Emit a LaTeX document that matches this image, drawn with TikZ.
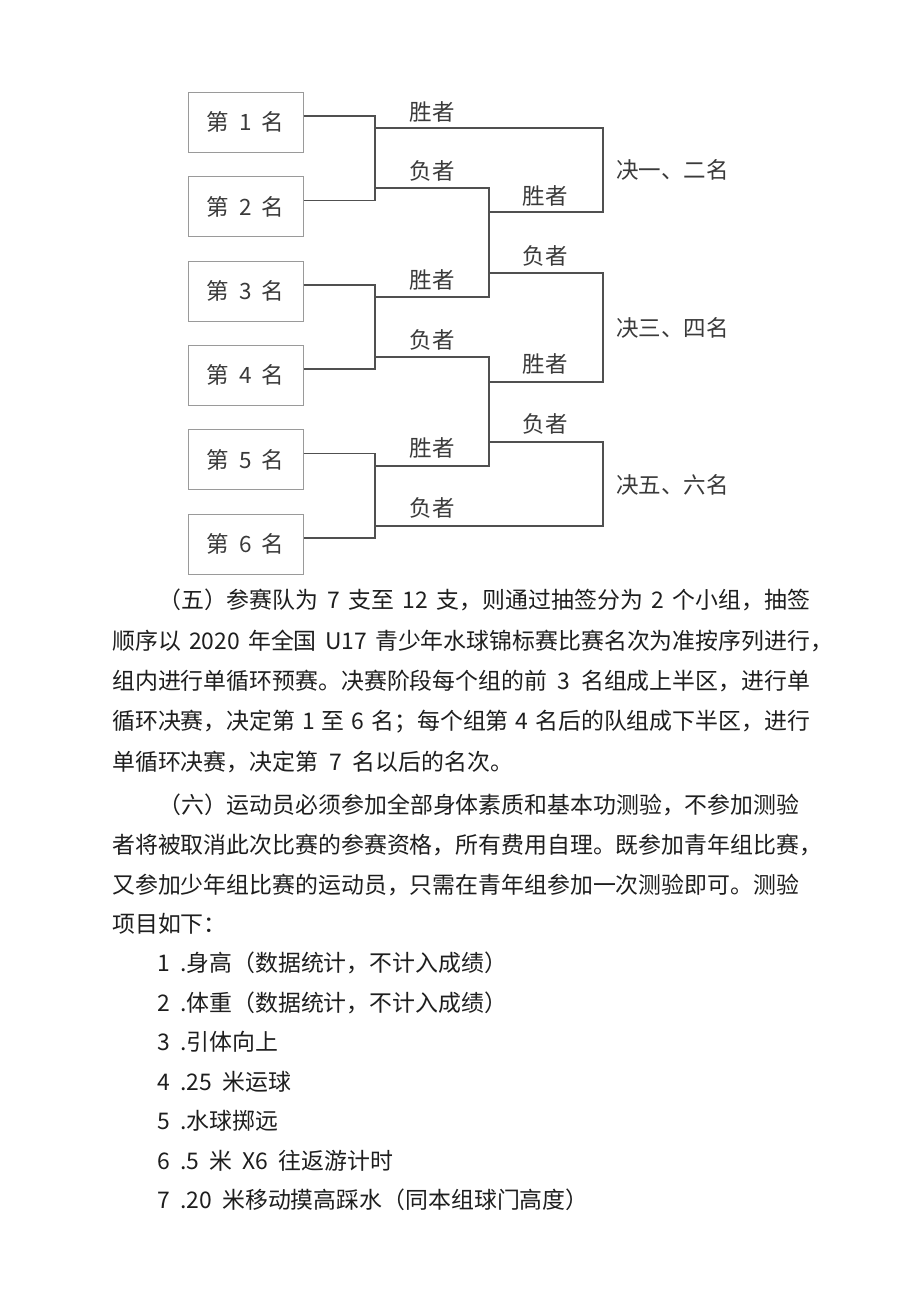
\documentclass[tikz,border=0pt]{standalone}
\usepackage{fontspec}
\setmainfont{Noto Sans CJK SC}
\newfontfamily\cjkfig{Noto Sans CJK SC}
\newfontfamily\cjkbody[WordSpace=2.0]{Noto Sans CJK SC}
\XeTeXlinebreaklocale "zh"
\XeTeXlinebreakskip=0pt plus 1fil minus 0.5pt
\usetikzlibrary{positioning}
\definecolor{boxline}{HTML}{9A9A9A}
\definecolor{bracket}{HTML}{505050}
\definecolor{figtext}{HTML}{3A3A3A}
\definecolor{bodytext}{HTML}{1E1E1E}

\newcommand{\fitline}[2]{\makebox[#1][s]{#2}}

\begin{document}
\begin{tikzpicture}[
    x=1pt, y=-1pt,
    rankbox/.style={draw=boxline, line width=1pt, minimum width=115pt, minimum height=60pt,
        inner sep=0pt, font=\cjkfig\fontsize{22.5}{22.5}\selectfont, text=figtext},
    lab/.style={font=\cjkfig\fontsize{22.5}{22.5}\selectfont, text=figtext, inner sep=0pt},
    bline/.style={draw=bracket, line width=1.5pt},
    body/.style={font=\cjkbody\fontsize{22.9}{22.9}\selectfont, text=bodytext, anchor=west, inner sep=0pt},
]
\useasboundingbox (0,0) rectangle (920,1301);
\fill[white] (0,0) rectangle (920,1301);

% ---------------------------------------------------------------- the bracket
\foreach \i/\y in {1/122, 2/206.5, 3/291, 4/375, 5/459.5, 6/544}{
    \node[rankbox] (r\i) at (245.5, \y) {第 \i{} 名};
}

\coordinate (w12) at (375, 128);  \coordinate (l12) at (375, 188);
\coordinate (w34) at (375, 297);  \coordinate (l34) at (375, 357);
\coordinate (w56) at (375, 466);  \coordinate (l56) at (375, 526);
\coordinate (sa) at (489, 212);   \coordinate (sb) at (489, 273);
\coordinate (sc) at (489, 382);   \coordinate (sd) at (489, 442);
\coordinate (fa) at (603, 128);   \coordinate (fb) at (603, 273);
\coordinate (fc) at (603, 442);

% first round
\draw[bline] ([yshift=6pt]r1.east) -| (w12) |- ([yshift=6pt]r2.east);
\draw[bline] ([yshift=6pt]r3.east) -| (w34) |- ([yshift=6pt]r4.east);
\draw[bline] ([yshift=6pt]r5.east) -| (w56) |- ([yshift=6pt]r6.east);

% second round
\draw[bline] (l12) -| (sa) |- (w34);
\draw[bline] (l34) -| (sc) |- (w56);

% finals
\draw[bline] (w12) -- (fa) |- (sa);
\draw[bline] (sb) -- (fb) |- (sc);
\draw[bline] (sd) -- (fc) |- (l56);

\foreach \x/\y/\t [count=\k] in {432/112/胜者, 432/171/负者, 545/196/胜者, 545/256/负者,
    432/280/胜者, 432/340/负者, 545/364/胜者, 545/424/负者, 432/448/胜者, 432/508/负者}{
    \node[lab] (t\k) at (\x, \y) {\t};
}

\node[lab, anchor=west] (g1) at (616, 170) {决一、二名};
\node[lab, anchor=west] (g2) at (616, 328) {决三、四名};
\node[lab, anchor=west] (g3) at (616, 485) {决五、六名};

% ---------------------------------------------------------------- the text
\node[body] (p1) at (158, 600) {\fitline{652pt}{（五）参赛队为 7 支至 12 支，则通过抽签分为 2 个小组，抽签}};
\node[body] (p2) at (112, 640.5) {\fitline{721pt}{顺序以 2020 年全国 U17 青少年水球锦标赛比赛名次为准按序列进行，}};
\node[body] (p3) at (112, 681) {\fitline{698pt}{组内进行单循环预赛。决赛阶段每个组的前 3 名组成上半区，进行单}};
\node[body] (p4) at (112, 721.5) {\fitline{698pt}{循环决赛，决定第 1 至 6 名；每个组第 4 名后的队组成下半区，进行}};
\node[body] (p5) at (112, 762) {\fitline{401pt}{单循环决赛，决定第 7 名以后的名次。}};

\node[body] (q1) at (158, 805) {\fitline{652pt}{（六）运动员必须参加全部身体素质和基本功测验，不参加测验}};
\node[body] (q2) at (112, 845) {\fitline{721pt}{者将被取消此次比赛的参赛资格，所有费用自理。既参加青年组比赛，}};
\node[body] (q3) at (112, 885) {\fitline{698pt}{又参加少年组比赛的运动员，只需在青年组参加一次测验即可。测验}};
\node[body] (q4) at (112, 924) {项目如下：};

\foreach \t [count=\k] in {{身高（数据统计，不计入成绩）}, {体重（数据统计，不计入成绩）}, {引体向上},
    {25 米运球}, {水球掷远}, {5 米 X6 往返游计时}, {20 米移动摸高踩水（同本组球门高度）}}{
    \node[body] (m\k) at (157, {963 + (\k-1)*39.5}) {\k{} .\t};
}

\end{tikzpicture}
\end{document}
